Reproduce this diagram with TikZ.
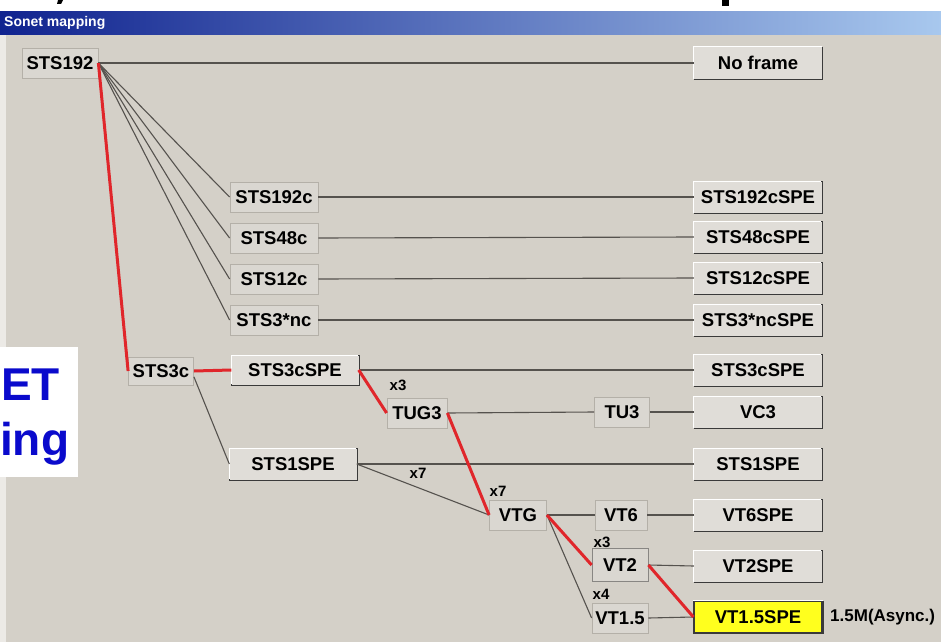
\documentclass[tikz,border=0pt]{standalone}
\usepackage{fontspec}
\setmainfont{Liberation Sans}
\usetikzlibrary{positioning}
\definecolor{winface}{HTML}{D4D0C8}
\definecolor{btnface}{HTML}{E0DDD8}
\definecolor{flatface}{HTML}{DAD7D1}
\definecolor{btnshade}{HTML}{3A3A3A}
\definecolor{boxedge}{HTML}{B4B0A8}
\definecolor{mapred}{HTML}{E0262B}
\definecolor{linkgray}{HTML}{55524E}
\definecolor{barleft}{HTML}{10238F}
\definecolor{barright}{HTML}{A8C8EE}
\definecolor{slideblue}{HTML}{0A0ACC}
\definecolor{hiyellow}{HTML}{FFFF1E}

\tikzset{
  lbl/.style={font=\fontsize{18.5}{21}\bfseries\selectfont, inner sep=0pt},
  flatbox/.style={lbl, draw=boxedge, line width=0.8pt, fill=flatface, minimum height=30pt},
  spebox/.style={lbl, fill=btnface, minimum width=128pt, minimum height=31pt,
    append after command={\pgfextra{
      \draw[white, line width=1pt] (\tikzlastnode.south west) -- (\tikzlastnode.north west) -- (\tikzlastnode.north east);
      \draw[btnshade, line width=2pt] (\tikzlastnode.south west) -- (\tikzlastnode.south east) -- (\tikzlastnode.north east);}}},
  hlbox/.style={spebox, fill=hiyellow, draw=btnshade, line width=1.2pt},
  link/.style={linkgray, line width=1.1pt},
  redlink/.style={mapred, line width=3pt},
  mult/.style={font=\fontsize{15}{17}\bfseries\selectfont, inner sep=0pt},
  slidetxt/.style={slideblue, anchor=base west, inner sep=0pt, font=\fontsize{46}{54}\bfseries\selectfont},
}

\begin{document}
\begin{tikzpicture}[x=1pt, y=-1pt]
  \useasboundingbox (0,0) rectangle (941,642);
  \clip (0,0) rectangle (941,642);
  % window frame
  \fill[white] (0,0) rectangle (941,12);
  \fill[black] (58,0) -- (63,0) -- (61,4) -- (57,4) -- cycle;
  \fill[black] (722,0) rectangle (729,6);
  \shade[left color=barleft, right color=barright] (0,12) rectangle (941,35);
  \node[white, anchor=west, inner sep=0pt, font=\fontsize{14}{16}\bfseries\selectfont] (title) at (4,23) {Sonet mapping};
  \fill[winface] (0,35) rectangle (941,642);
  \fill[winface!45!white] (0,35) rectangle (6,642);

  % left column
  \node[flatbox, minimum width=76pt] (s192) at (60,63) {STS192};
  \node[flatbox, minimum width=65pt, minimum height=28pt] (s3c) at (161,371) {STS3c};

  % middle column
  \node[flatbox, minimum width=88pt] (s192c) at (274,197) {STS192c};
  \node[flatbox, minimum width=88pt] (s48c) at (274,238) {STS48c};
  \node[flatbox, minimum width=88pt] (s12c) at (274,279) {STS12c};
  \node[flatbox, minimum width=88pt] (s3nc) at (274,320) {STS3*nc};
  \node[spebox, minimum width=127pt, minimum height=29pt] (s3cm) at (295,370) {STS3cSPE};
  \node[spebox, minimum width=127pt] (s1m) at (293,464) {STS1SPE};
  \node[flatbox, minimum width=60pt] (tug3) at (417,413) {TUG3};
  \node[flatbox, minimum width=55pt] (tu3) at (622,412) {TU3};
  \node[flatbox, minimum width=57pt] (vtg) at (518,515) {VTG};
  \node[flatbox, minimum width=52pt] (vt6) at (621,515) {VT6};
  \node[flatbox, minimum width=56pt, minimum height=33pt, draw=linkgray!70] (vt2) at (620,565) {VT2};
  \node[flatbox, minimum width=56pt] (vt15) at (620,618) {VT1.5};

  % right column
  \node[spebox, minimum height=32pt] (noframe) at (758,63) {No frame};
  \node[spebox] (s192cspe) at (758,197) {STS192cSPE};
  \node[spebox] (s48cspe) at (758,237) {STS48cSPE};
  \node[spebox] (s12cspe) at (758,278) {STS12cSPE};
  \node[spebox] (s3ncspe) at (758,320) {STS3*ncSPE};
  \node[spebox] (s3cspe) at (758,370) {STS3cSPE};
  \node[spebox] (vc3) at (758,412) {VC3};
  \node[spebox] (s1spe) at (758,464) {STS1SPE};
  \node[spebox] (vt6spe) at (758,515) {VT6SPE};
  \node[spebox] (vt2spe) at (758,566) {VT2SPE};
  \node[hlbox] (vt15spe) at (758,617) {VT1.5SPE};
  \node[anchor=west, inner sep=0pt, font=\fontsize{17}{20}\bfseries\selectfont] (rate) at (830,617) {1.5M(Async.)};

  % plain connectors
  \draw[link] (s192.east) -- (noframe.west);
  \draw[link] (s192.east) -- (s192c.west);
  \draw[link] (s192.east) -- (s48c.west);
  \draw[link] (s192.east) -- (s12c.west);
  \draw[link] (s192.east) -- (s3nc.west);
  \draw[link] (s192c.east) -- (s192cspe.west);
  \draw[link] (s48c.east) -- (s48cspe.west);
  \draw[link] (s12c.east) -- (s12cspe.west);
  \draw[link] (s3nc.east) -- (s3ncspe.west);
  \draw[link] (s3c.-10) -- (s1m.west);
  \draw[link] (s3cm.east) -- (s3cspe.west);
  \draw[link] (tug3.east) -- (tu3.west);
  \draw[link] (tu3.east) -- (vc3.west);
  \draw[link] (s1m.east) -- (s1spe.west);
  \draw[link] (s1m.east) -- (vtg.west);
  \draw[link] (vtg.east) -- (vt6.west);
  \draw[link] (vt6.east) -- (vt6spe.west);
  \draw[link] (vtg.east) -- (vt15.west);
  \draw[link] (vt2.east) -- (vt2spe.west);
  \draw[link] (vt15.east) -- (vt15spe.west);

  % mapping path
  \draw[redlink] (s192.east) -- (s3c.west);
  \draw[redlink] (s3c.east) -- (s3cm.west);
  \draw[redlink] (s3cm.east) -- (tug3.west);
  \draw[redlink] (tug3.east) -- (vtg.west);
  \draw[redlink] (vtg.east) -- (vt2.west);
  \draw[redlink] (vt2.east) -- (vt15spe.west);

  % multiplicities
  \node[mult] (m1) at (398,385) {x3};
  \node[mult] (m2) at (418,473) {x7};
  \node[mult] (m3) at (498,491) {x7};
  \node[mult] (m4) at (602,542) {x3};
  \node[mult] (m5) at (601,594) {x4};

  % slide text
  \fill[white] (0,347) rectangle (78,477);
  \node[slidetxt] (hd1) at (1,400) {ET};
  \node[slidetxt] (hd2) at (0,455) {ing};
\end{tikzpicture}
\end{document}
